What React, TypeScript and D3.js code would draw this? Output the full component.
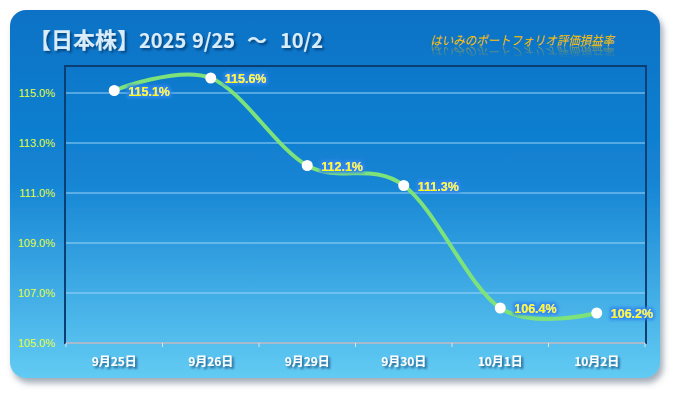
import React from 'react';
import * as d3 from 'd3';

const W = 675;
const H = 393;

const categories = ['9月25日', '9月26日', '9月29日', '9月30日', '10月1日', '10月2日'];
const values = [115.1, 115.6, 112.1, 111.3, 106.4, 106.2];
const yTicks = [105, 107, 109, 111, 113, 115];

const SUBTITLE = 'はいみのポートフォリオ評価損益率';

const JP = '"Noto Sans CJK JP", "Noto Sans", sans-serif';
const LAT = '"Liberation Sans", Arial, sans-serif';

const PL = 66;
const PR = 645;
const PT = 67;
const PB = 343;

const App: React.FC = () => {
  const x = d3.scaleBand<string>().domain(categories).range([PL, PR]);
  const y = d3.scaleLinear().domain([105, 116]).range([PB, PB - 11 * 25]);
  const cx = (c: string) => (x(c) ?? 0) + x.bandwidth() / 2;

  const pts = categories.map((c, i) => ({ c, v: values[i] }));
  const line = d3
    .line<{ c: string; v: number }>()
    .x(d => cx(d.c))
    .y(d => y(d.v))
    .curve(d3.curveCardinal.tension(0));

  const boundaries = [...categories.map(c => x(c) ?? 0), PR];

  return (
    <svg width={W} height={H} style={{ position: 'absolute', left: 0, top: 0 }}>
      <defs>
        <linearGradient id="bg" x1="0" y1="0" x2="0" y2="1">
          <stop offset="0" stopColor="#0a72c6" />
          <stop offset="0.45" stopColor="#1383d3" />
          <stop offset="1" stopColor="#62cbf3" />
        </linearGradient>
        <filter id="shadow" x="-5%" y="-5%" width="115%" height="120%">
          <feGaussianBlur in="SourceAlpha" stdDeviation="3" />
          <feOffset dx="3" dy="5" result="b" />
          <feFlood floodColor="#8a97a6" floodOpacity="0.8" />
          <feComposite in2="b" operator="in" />
          <feMerge>
            <feMergeNode />
            <feMergeNode in="SourceGraphic" />
          </feMerge>
        </filter>
        <filter id="glow" x="-20%" y="-40%" width="140%" height="180%">
          <feMorphology in="SourceAlpha" operator="dilate" radius="2" result="d" />
          <feGaussianBlur in="d" stdDeviation="1.5" result="bl" />
          <feFlood floodColor="#2f86ee" floodOpacity="0.95" />
          <feComposite in2="bl" operator="in" />
          <feMerge>
            <feMergeNode />
            <feMergeNode in="SourceGraphic" />
          </feMerge>
        </filter>
        <filter id="tshadow" x="-5%" y="-20%" width="110%" height="150%">
          <feGaussianBlur in="SourceAlpha" stdDeviation="1" />
          <feOffset dx="1.5" dy="1.5" result="o" />
          <feFlood floodColor="#0a3060" floodOpacity="0.7" />
          <feComposite in2="o" operator="in" />
          <feMerge>
            <feMergeNode />
            <feMergeNode in="SourceGraphic" />
          </feMerge>
        </filter>
        <linearGradient id="reflFade" x1="0" y1="0" x2="0" y2="1">
          <stop offset="0" stopColor="#fff" stopOpacity="0.6" />
          <stop offset="1" stopColor="#fff" stopOpacity="0" />
        </linearGradient>
        <mask id="reflMask" maskUnits="userSpaceOnUse" x={420} y={44} width={200} height={16}>
          <rect x={420} y={45} width={200} height={13} fill="url(#reflFade)" />
        </mask>
      </defs>

      <rect x={10} y={10} width={650} height={368} rx={16} fill="url(#bg)" filter="url(#shadow)" />

      {/* title */}
      <text y={48} fill="#d8ecfa" fontFamily={JP} fontWeight="bold" fontSize={20} filter="url(#tshadow)">
        <tspan x={29} fontSize={22}>【日本株】</tspan>
        <tspan x={139}>2025</tspan>
        <tspan x={192}>9/25</tspan>
        <tspan x={247}>〜</tspan>
        <tspan x={280}>10/2</tspan>
      </text>

      {/* subtitle with mirrored reflection */}
      <text
        id="subtitle"
        x={430}
        y={45}
        fill="#ffc000"
        fontFamily={JP}
        fontSize={12.5}
        fontStyle="italic"
        textLength={184}
        lengthAdjust="spacingAndGlyphs"
      >
        {SUBTITLE}
      </text>
      <g mask="url(#reflMask)">
        <use href="#subtitle" transform="translate(0,92) scale(1,-1)" />
      </g>

      {/* plot frame */}
      <rect x={PL - 1} y={PT - 1} width={PR - PL + 2} height={PB - PT + 1} fill="none" stroke="#0b3f73" strokeWidth={2} />

      {/* gridlines */}
      {yTicks.slice(1).map(t => (
        <line key={t} x1={PL} x2={PR} y1={y(t)} y2={y(t)} stroke="#a9dcfb" strokeWidth={1} opacity={0.9} />
      ))}

      {/* y labels */}
      {yTicks.map(t => (
        <text key={t} x={55} y={y(t) + 4} textAnchor="end" fill="#e6ff3c" fontFamily={LAT} fontSize={11}>
          {t.toFixed(1)}%
        </text>
      ))}

      {/* x axis */}
      <line x1={PL} x2={PR} y1={PB} y2={PB} stroke="#dde6ee" strokeWidth={1.5} />
      {boundaries.map((b, i) => (
        <line key={i} x1={b} x2={b} y1={PB} y2={PB + 4} stroke="#dde6ee" strokeWidth={1} />
      ))}
      {categories.map(c => (
        <text
          key={c}
          x={cx(c)}
          y={366}
          textAnchor="middle"
          fill="#ffffff"
          fontFamily={JP}
          fontWeight="bold"
          fontSize={12}
          filter="url(#tshadow)"
        >
          {c}
        </text>
      ))}

      {/* series */}
      <path d={line(pts) ?? undefined} fill="none" stroke="#7ee27a" strokeWidth={4} strokeLinecap="round" />
      {pts.map(p => (
        <circle key={p.c} cx={cx(p.c)} cy={y(p.v)} r={5.5} fill="#ffffff" />
      ))}
      {pts.map(p => (
        <text
          key={p.c}
          x={cx(p.c) + 14}
          y={y(p.v) + 5}
          fill="#ffff00"
          fontFamily={LAT}
          fontWeight="bold"
          fontSize={12.5}
          filter="url(#glow)"
        >
          {p.v.toFixed(1)}%
        </text>
      ))}
    </svg>
  );
};

export default App;
